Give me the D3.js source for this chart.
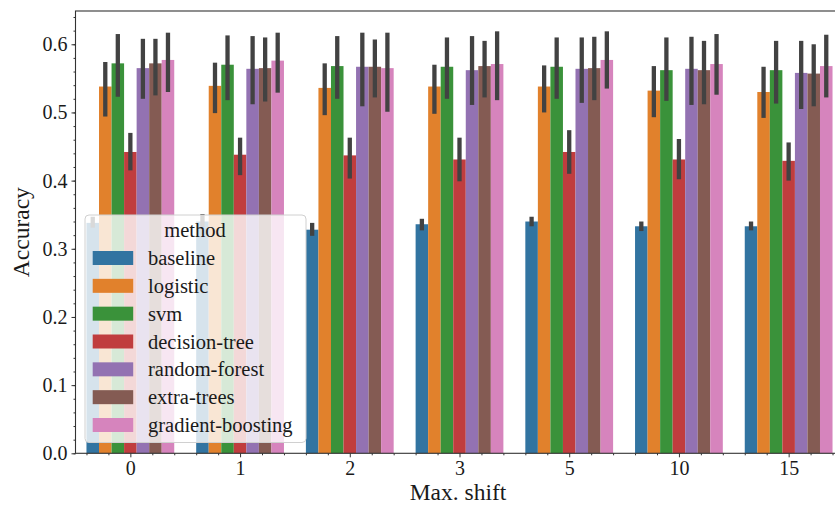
<!DOCTYPE html>
<html>
<head>
<meta charset="utf-8">
<script src="https://cdn.jsdelivr.net/npm/d3@7"></script>
<style>
  body { margin: 0; background: white; }
  svg { display: block; font-family: "Liberation Serif", serif; }
</style>
</head>
<body>
<div id="chart"></div>
<script>
// max. shift groups
const shifts = ["0", "1", "2", "3", "5", "10", "15"]
const methods = ["baseline", "logistic", "svm", "decision-tree", "random-forest", "extra-trees", "gradient-boosting"]
const colors = ["#3274a1", "#e1812c", "#3a923a", "#c03d3e", "#9372b2", "#845b53", "#d684bd"]

// mean accuracy per method, one value per shift
const baseline = [0.338, 0.340, 0.328, 0.336, 0.340, 0.333, 0.333]
const logistic = [0.538, 0.539, 0.536, 0.538, 0.538, 0.532, 0.530]
const svm = [0.572, 0.570, 0.568, 0.567, 0.567, 0.562, 0.562]
const decisionTree = [0.442, 0.438, 0.437, 0.431, 0.442, 0.431, 0.429]
const randomForest = [0.565, 0.564, 0.567, 0.562, 0.564, 0.564, 0.558]
const extraTrees = [0.572, 0.565, 0.567, 0.568, 0.565, 0.562, 0.557]
const gradBoost = [0.577, 0.576, 0.565, 0.571, 0.577, 0.571, 0.568]

// confidence intervals (low / high)
const baselineLo = [0.331, 0.332, 0.319, 0.327, 0.333, 0.326, 0.327]
const baselineHi = [0.347, 0.351, 0.338, 0.344, 0.347, 0.340, 0.340]
const logisticLo = [0.494, 0.499, 0.496, 0.498, 0.500, 0.493, 0.492]
const logisticHi = [0.574, 0.573, 0.572, 0.570, 0.569, 0.568, 0.567]
const svmLo = [0.523, 0.518, 0.520, 0.520, 0.520, 0.517, 0.513]
const svmHi = [0.615, 0.613, 0.612, 0.610, 0.610, 0.610, 0.605]
const decisionTreeLo = [0.415, 0.408, 0.403, 0.399, 0.410, 0.402, 0.400]
const decisionTreeHi = [0.470, 0.463, 0.463, 0.463, 0.474, 0.461, 0.456]
const randomForestLo = [0.520, 0.512, 0.509, 0.511, 0.514, 0.511, 0.505]
const randomForestHi = [0.608, 0.612, 0.617, 0.612, 0.610, 0.611, 0.605]
const extraTreesLo = [0.525, 0.516, 0.522, 0.522, 0.518, 0.512, 0.509]
const extraTreesHi = [0.608, 0.610, 0.607, 0.605, 0.611, 0.605, 0.600]
const gradBoostLo = [0.530, 0.529, 0.501, 0.518, 0.535, 0.526, 0.522]
const gradBoostHi = [0.617, 0.617, 0.617, 0.619, 0.619, 0.615, 0.614]

const yTicks = [0.0, 0.1, 0.2, 0.3, 0.4, 0.5, 0.6]

const means = [baseline, logistic, svm, decisionTree, randomForest, extraTrees, gradBoost]
const lows = [baselineLo, logisticLo, svmLo, decisionTreeLo, randomForestLo, extraTreesLo, gradBoostLo]
const highs = [baselineHi, logisticHi, svmHi, decisionTreeHi, randomForestHi, extraTreesHi, gradBoostHi]

let data = []
methods.forEach((m, i) => {
  shifts.forEach((s, j) => {
    data.push({method: m, shift: s, mean: means[i][j], lo: lows[i][j], hi: highs[i][j], color: colors[i]})
  })
})

const W = 835, H = 506
const mg = {left: 75.5, right: 843.5, top: 11, bottom: 453.3}
const txt = "#1a1a1a"

const svg = d3.select("#chart").append("svg").attr("width", W).attr("height", H)

// x: categorical groups, plus a linear twin for the minor ticks
const xLin = d3.scaleLinear().domain([-0.5, shifts.length - 0.5]).range([mg.left, mg.right])
const xGroup = d3.scaleBand().domain(shifts).range([mg.left, mg.right]).paddingInner(0.2).paddingOuter(0.1)
const xInner = d3.scaleBand().domain(methods).range([0, xGroup.bandwidth()])
const y = d3.scaleLinear().domain([0, 0.6488]).range([mg.bottom, mg.top])

const g = svg.append("g")

g.selectAll("rect.bar").data(data).enter().append("rect")
  .attr("class", "bar")
  .attr("x", d => xGroup(d.shift) + xInner(d.method))
  .attr("width", xInner.bandwidth())
  .attr("y", d => y(d.mean))
  .attr("height", d => y(0) - y(d.mean))
  .attr("fill", d => d.color)

g.selectAll("line.err").data(data).enter().append("line")
  .attr("class", "err")
  .attr("x1", d => xGroup(d.shift) + xInner(d.method) + xInner.bandwidth() / 2)
  .attr("x2", d => xGroup(d.shift) + xInner(d.method) + xInner.bandwidth() / 2)
  .attr("y1", d => y(d.lo))
  .attr("y2", d => y(d.hi))
  .attr("stroke", "#424242")
  .attr("stroke-width", 4.3)

// frame
svg.append("rect").attr("x", mg.left).attr("y", mg.top)
  .attr("width", mg.right - mg.left).attr("height", mg.bottom - mg.top)
  .attr("fill", "none").attr("stroke", "#333").attr("stroke-width", 1.1)

// y axis
const yAxis = d3.axisLeft(y).tickValues(yTicks).tickFormat(d3.format(".1f")).tickSize(4).tickPadding(4)
const yG = svg.append("g").attr("transform", `translate(${mg.left},0)`).call(yAxis)
yG.select(".domain").remove()
yG.selectAll("text").attr("font-size", 20).attr("fill", txt).attr("font-family", "Liberation Serif")
yG.selectAll("line").attr("stroke", "#333")
const yMinor = d3.axisLeft(y).tickValues(d3.range(0, 0.641, 0.02)).tickSize(2).tickFormat("")
const yMG = svg.append("g").attr("transform", `translate(${mg.left},0)`).call(yMinor)
yMG.select(".domain").remove()
yMG.selectAll("line").attr("stroke", "#333")

// x axis
const xAxis = d3.axisBottom(xLin).tickValues(d3.range(shifts.length)).tickFormat(i => shifts[i]).tickSize(4).tickPadding(4)
const xG = svg.append("g").attr("transform", `translate(0,${mg.bottom})`).call(xAxis)
xG.select(".domain").remove()
xG.selectAll("text").attr("font-size", 20).attr("fill", txt).attr("font-family", "Liberation Serif")
xG.selectAll("line").attr("stroke", "#333")
const xMinorVals = d3.range(-0.4, shifts.length - 0.5, 0.2).filter(v => Math.abs(v - Math.round(v)) > 0.05)
const xMinor = d3.axisBottom(xLin).tickValues(xMinorVals).tickSize(2).tickFormat("")
const xMG = svg.append("g").attr("transform", `translate(0,${mg.bottom})`).call(xMinor)
xMG.select(".domain").remove()
xMG.selectAll("line").attr("stroke", "#333")

// axis labels
svg.append("text").attr("x", 458).attr("y", 500).attr("text-anchor", "middle")
  .attr("font-size", 23.5).attr("fill", txt).text("Max. shift")
svg.append("text").attr("transform", `translate(29,${(mg.top + mg.bottom) / 2}) rotate(-90)`)
  .attr("text-anchor", "middle").attr("font-size", 23.5).attr("fill", txt).text("Accuracy")

// legend
const lg = svg.append("g")
lg.append("rect").attr("x", 85).attr("y", 215).attr("width", 221).attr("height", 227.5)
  .attr("rx", 4).attr("fill", "white").attr("fill-opacity", 0.8)
  .attr("stroke", "#d0d0d0").attr("stroke-width", 1)
lg.append("text").attr("x", 195).attr("y", 236.7).attr("text-anchor", "middle")
  .attr("font-size", 20.5).attr("fill", txt).text("method")
const rowY = d3.scalePoint().domain(methods).range([258, 425])
methods.forEach((m, i) => {
  lg.append("rect").attr("x", 92.7).attr("y", rowY(m) - 7).attr("width", 40.5).attr("height", 14).attr("fill", colors[i])
  lg.append("text").attr("x", 148).attr("y", rowY(m) + 7).attr("font-size", 20.5).attr("fill", txt).text(m)
})
</script>
</body>
</html>
